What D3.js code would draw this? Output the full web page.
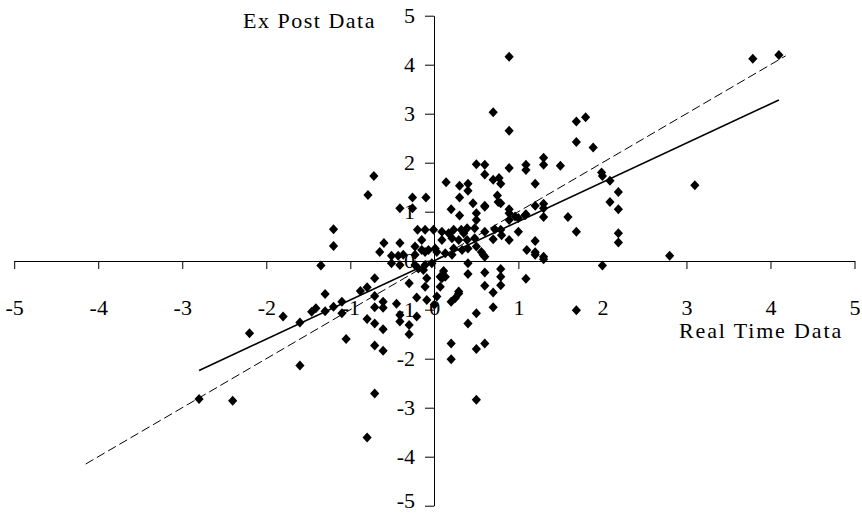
<!DOCTYPE html>
<html>
<head>
<meta charset="utf-8">
<script src="https://cdn.jsdelivr.net/npm/d3@7"></script>
<style>
    body { margin: 0; background: #fff; }
    svg text { font-family: "Liberation Serif", serif; fill: #000; }
</style>
</head>
<body>
<svg id="chart" width="862" height="515"></svg>
<script>
// real time data (x) and ex post data (y)
let realTime = [
    3.79, 4.10, 0.89, 0.70, 0.89, 1.69, 1.80, 1.69, 1.89, 0.50,
    0.60, 0.89, 1.09, 1.09, 1.30, 1.30, 1.50, 0.60, 0.70, 0.77,
    0.79, 0.14, 0.30, 0.40, 0.40, 0.30, 1.20, 1.99, 2.00, 2.09,
    2.19, 2.09, 2.19, 3.10, 2.19, 2.19, 2.80, 1.59, 1.69, 1.30,
    1.30, 1.30, 1.20, 1.09, 1.00, 0.89, 0.89, 0.79, 0.75, 0.60,
    0.46, 0.50, 0.30, 0.20, 0.89, 1.00, 1.20, 1.20, 1.10, 1.30,
    0.89, 0.79, 0.70, -0.10, -0.26, 0.76, 0.60, 0.50, 0.96, 1.08,
    0.72, 0.80, 0.48, 0.39, 0.32, 0.23, 0.17, 0.09, -0.01, -0.11,
    -0.20, 0.48, 0.39, 0.29, 0.21, 0.09, -0.15, -0.23, -0.11, 0.01,
    0.23, 0.40, 0.50, 0.58, -0.23, 0.60, 0.35, 0.13, 0.33, 0.56,
    0.03, 0.21, -0.72, -0.79, -0.41, -0.26, -1.20, -1.20, -0.60, -0.41,
    -0.65, -0.51, -0.43, -0.37, -0.07, -0.15, -0.51, -0.41, -0.23, -0.11,
    -0.03, -0.71, -0.88, -0.71, -0.30, -0.13, -0.09, -0.11, 0.07, 0.07,
    0.03, -1.35, -1.30, -0.80, -0.61, -1.10, -1.20, -1.30, -1.41, -1.46,
    -1.10, -0.71, -0.61, -0.45, -0.21, -0.21, -0.41, -0.41, -0.30, -0.30,
    -0.80, -0.71, -0.61, -0.71, -0.61, -1.05, -1.60, -1.80, -2.20, -1.60,
    -2.80, -2.40, -0.71, -0.80, -0.19, -0.09, 0.00, 0.11, 0.09, 0.20,
    0.29, 0.40, 0.40, 0.60, 0.60, 0.60, 0.70, 0.79, 0.79, 0.79,
    0.70, 0.50, 0.40, 0.20, 0.20, 0.50, 0.60, 0.50, 1.09, 1.20,
    1.30, 2.00, 1.69, 0.29, 0.25, 0.13
];
let exPost = [
    4.12, 4.20, 4.16, 3.03, 2.65, 2.84, 2.93, 2.42, 2.31, 1.97,
    1.96, 1.89, 1.96, 1.85, 2.10, 1.96, 1.94, 1.76, 1.65, 1.69,
    1.57, 1.60, 1.53, 1.57, 1.43, 1.29, 1.57, 1.80, 1.73, 1.63,
    1.40, 1.20, 1.05, 1.54, 0.56, 0.37, 0.10, 0.89, 0.59, 1.16,
    1.07, 0.89, 1.12, 0.95, 0.87, 1.05, 0.97, 1.17, 1.33, 1.12,
    1.17, 0.97, 0.92, 1.05, 0.83, 0.59, 0.40, 0.17, 0.22, 0.08,
    0.42, 0.63, 0.44, 1.29, 1.29, 1.20, 1.10, 0.83, 0.90, 0.93,
    0.64, 0.52, 0.66, 0.66, 0.63, 0.63, 0.56, 0.59, 0.63, 0.63,
    0.63, 0.46, 0.42, 0.42, 0.46, 0.42, 0.42, 0.29, 0.18, 0.25,
    0.25, 0.25, 0.29, 0.12, 0.12, 0.59, 0.56, 0.15, 0.22, 0.18,
    0.18, 0.12, 1.73, 1.34, 1.07, 1.07, 0.64, 0.30, 0.36, 0.36,
    0.18, 0.10, 0.10, 0.12, 0.22, 0.22, -0.05, -0.09, -0.09, -0.09,
    -0.05, -0.36, -0.62, -0.72, -0.46, -0.19, -0.36, -0.53, -0.33, -0.53,
    -0.73, -0.10, -0.68, -0.54, -0.84, -0.84, -0.94, -1.03, -0.97, -1.04,
    -1.07, -0.95, -0.96, -0.88, -0.75, -1.14, -1.11, -1.24, -1.31, -1.50,
    -1.19, -1.28, -1.40, -1.73, -1.84, -1.60, -1.26, -1.14, -1.48, -2.14,
    -2.82, -2.86, -2.71, -3.61, -0.16, -0.80, -0.90, -0.21, -0.36, -0.84,
    -0.67, -0.05, -0.27, 0.08, -0.24, -0.51, -0.65, -0.17, -0.33, -0.50,
    -0.95, -1.07, -1.28, -1.69, -2.01, -1.80, -1.69, -2.84, -0.37, 0.12,
    0.03, -0.10, -1.01, -0.63, -0.76, -0.33
];

let xTicks = [-5, -4, -3, -2, -1, 0, 1, 2, 3, 4, 5];
let yTicks = [-5, -4, -3, -2, -1, 0, 1, 2, 3, 4, 5];

// fitted line (solid) and 45 degree line (dashed)
let fitSlope = 0.8;
let fitIntercept = 0.0;
let fitRange = [-2.8, 4.1];
let diagRange = [-4.15, 4.18];

let svg = d3.select("#chart");

let xScale = d3.scaleLinear().domain([-5, 5]).range([14.2, 854.5]);
let yScale = d3.scaleLinear().domain([-5, 5]).range([505.7, 15.7]);

let x0 = Math.round(xScale(0));
let y0 = Math.round(yScale(0));

let xAxis = d3.axisBottom(xScale)
    .tickValues(xTicks)
    .tickSize(8)
    .tickSizeOuter(0)
    .tickPadding(30)
    .tickFormat(function (d) { return String(d); });

let yAxis = d3.axisLeft(yScale)
    .tickValues(yTicks)
    .tickSize(9)
    .tickSizeOuter(0)
    .tickPadding(10)
    .tickFormat(function (d) { return String(d); });

let gx = svg.append("g")
    .attr("transform", "translate(0," + y0 + ")")
    .call(xAxis);

let gy = svg.append("g")
    .attr("transform", "translate(" + x0 + ",0)")
    .call(yAxis);

[gx, gy].forEach(function (g) {
    g.attr("font-family", null).attr("font-size", null);
    g.select(".domain").attr("stroke", "#000");
    g.selectAll(".tick line").attr("stroke", "#000");
    g.selectAll(".tick text").style("font-size", "22px");
});

// bottom label sits at the page edge, lift it a little
gy.selectAll(".tick text")
    .filter(function (d) { return d === -5; })
    .attr("dy", "0.1em");

// axis titles
svg.append("text")
    .attr("x", 376)
    .attr("y", 28)
    .attr("text-anchor", "end")
    .style("font-size", "22px")
    .style("letter-spacing", "1.5px")
    .text("Ex Post Data");

svg.append("text")
    .attr("x", 679)
    .attr("y", 338)
    .style("font-size", "22px")
    .style("letter-spacing", "1.85px")
    .text("Real Time Data");

// points
let points = realTime.map(function (d, i) {
    return { x: d, y: exPost[i] };
});

svg.append("g")
    .selectAll("path")
    .data(points)
    .enter()
    .append("path")
    .attr("d", "M0,-5L4.6,0L0,5L-4.6,0Z")
    .attr("fill", "#000")
    .attr("transform", function (d) {
        return "translate(" + xScale(d.x) + "," + yScale(d.y) + ")";
    });

// lines
let line = d3.line()
    .x(function (d) { return xScale(d[0]); })
    .y(function (d) { return yScale(d[1]); });

svg.append("path")
    .datum(diagRange.map(function (v) { return [v, v]; }))
    .attr("d", line)
    .attr("fill", "none")
    .attr("stroke", "#000")
    .attr("stroke-width", 1)
    .attr("stroke-dasharray", "9,4");

svg.append("path")
    .datum(fitRange.map(function (v) { return [v, fitIntercept + fitSlope * v]; }))
    .attr("d", line)
    .attr("fill", "none")
    .attr("stroke", "#000")
    .attr("stroke-width", 1.6);
</script>
</body>
</html>
